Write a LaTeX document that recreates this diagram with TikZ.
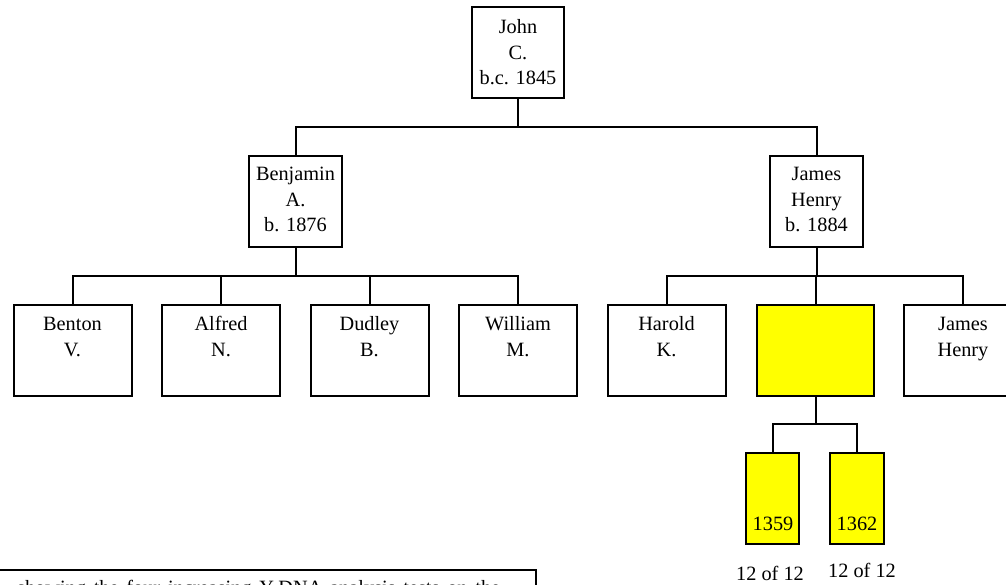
\documentclass[tikz,border=0pt]{standalone}
\usepackage{fontspec}
\setmainfont{Liberation Serif}
\definecolor{hiyellow}{RGB}{255,255,0}
\begin{document}
\begin{tikzpicture}[x=1pt,y=-1pt,
  box/.style={draw=black, line width=2pt, fill=white, anchor=north west, inner sep=0pt, outer sep=0pt},
  ybox/.style={box, fill=hiyellow},
  txt/.style={font=\fontsize{20.3}{25.8}\selectfont, align=center, anchor=base, inner sep=0pt},
  conn/.style={draw=black, line width=2pt}]
\useasboundingbox (0,0) rectangle (1006,585);
\clip (0,0) rectangle (1006,585);
% level 1 (anchor base = last line)
\node[box, minimum width=92, minimum height=91] (john) at (472,7) {};
\node[txt] (johnT) at (518,85) {John\\C.\\b.c. 1845};
% level 2
\node[box, minimum width=93, minimum height=91] (benj) at (249,156) {};
\node[txt] (benjT) at (295.5,232) {Benjamin\\A.\\b. 1876};
\node[box, minimum width=93, minimum height=91] (jamesA) at (770,156) {};
\node[txt] (jamesAT) at (816.5,232) {James\\Henry\\b. 1884};
% level 3
\node[box, minimum width=118, minimum height=91] (benton) at (13.5,305) {};
\node[txt] (bentonT) at (72.5,356) {Benton\\V.};
\node[box, minimum width=118, minimum height=91] (alfred) at (162,305) {};
\node[txt] (alfredT) at (221,356) {Alfred\\N.};
\node[box, minimum width=118, minimum height=91] (dudley) at (310.5,305) {};
\node[txt] (dudleyT) at (369.5,356) {Dudley\\B.};
\node[box, minimum width=118, minimum height=91] (william) at (459,305) {};
\node[txt] (williamT) at (518,356) {William\\M.};
\node[box, minimum width=118, minimum height=91] (harold) at (607.5,305) {};
\node[txt] (haroldT) at (666.5,356) {Harold\\K.};
\node[ybox, minimum width=117, minimum height=91] (yel) at (757,305) {};
\node[box, minimum width=118, minimum height=91] (jamesB) at (904,305) {};
\node[txt] (jamesBT) at (963,356) {James\\Henry};
% level 4
\node[ybox, minimum width=53, minimum height=91] (k1) at (746,453) {};
\node[txt] (k1T) at (773,530) {1359};
\node[ybox, minimum width=54, minimum height=91] (k2) at (830,453) {};
\node[txt] (k2T) at (857,530) {1362};
\node[txt] (r1) at (770,580) {12 of 12};
\node[txt] (r2) at (862,577) {12 of 12};
% connectors
\draw[conn] (john.south) -- ++(0,29) -| (benj.north);
\draw[conn] (john.south) -- ++(0,29) -| (jamesA.north);
\foreach \c in {benton,alfred,dudley,william}
  \draw[conn] (benj.south) -- ++(0,29) -| (\c.north);
\foreach \c in {harold,yel,jamesB}
  \draw[conn] (jamesA.south) -- ++(0,29) -| (\c.north);
\draw[conn] (yel.south) -- ++(0,28) -| (k1.north);
\draw[conn] (yel.south) -- ++(0,28) -| (k2.north);
% caption box (cut off at the bottom)
\node[box, minimum width=560, minimum height=60] (cap) at (-24,570) {};
\node[font=\fontsize{20.3}{25.8}\selectfont, anchor=base west, inner sep=0pt] (capT) at (17,594)
  {\makebox[483pt][s]{showing the four increasing Y-DNA analysis tests on the}};
\end{tikzpicture}
\end{document}
